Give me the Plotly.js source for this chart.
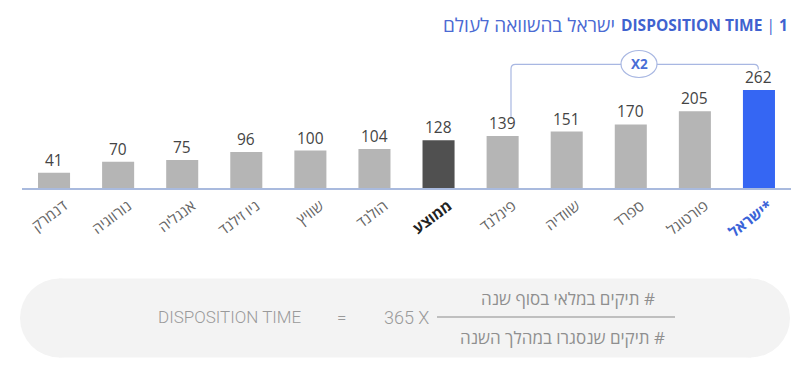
<!DOCTYPE html>
<html>
<head>
<meta charset="utf-8">
<script src="https://cdn.plot.ly/plotly-3.0.1.min.js"></script>
<style>html,body{margin:0;padding:0;background:#fff;}#chart{width:800px;height:371px;}</style>
</head>
<body>
<div id="chart"></div>
<script>
// ---- data ----
var countries = ['דנמרק','נורווגיה','אנגליה','ניו זילנד','שוויץ','הולנד','ממוצע','פינלנד','שוודיה','ספרד','פורטוגל','ישראל*'];
var dispositionDays = [41, 70, 75, 96, 100, 104, 128, 139, 151, 170, 205, 262];
var barKinds = ['c','c','c','c','c','c','avg','c','c','c','c','il'];
var titleHebrew = 'ישראל בהשוואה לעולם';
var titleLatin = 'DISPOSITION TIME';
var titleNumber = '1';
var multiplierLabel = 'X2';
var formulaLeft = 'DISPOSITION TIME';
var formulaFactor = '365 X';
var formulaNumerator = 'תיקים במלאי בסוף שנה #';
var formulaDenominator = 'תיקים שנסגרו במהלך השנה #';

// ---- styling ----
var kindColor = {c:'#b5b5b5', avg:'#505050', il:'#3566f3'};
var W = 800, H = 371, M = {l:22, r:9, t:68, b:183};
var PW = W - M.l - M.r, PH = H - M.t - M.b;
function xp(px){ return (px - M.l) / PW; }
function yp(py){ return (H - M.b - py) / PH; }

var tickText = countries.map(function(c, i){
  if (barKinds[i] === 'avg') return '<b><span style="color:#222">' + c + '</span></b>';
  if (barKinds[i] === 'il') return '<b><span style="color:#3a63d8">' + c + '</span></b>';
  return c;
});

var trace = {
  type: 'bar',
  x: countries,
  y: dispositionDays,
  marker: {color: barKinds.map(function(k){ return kindColor[k]; })},
  hoverinfo: 'skip'
};

var annotations = dispositionDays.map(function(v, i){
  return {x: countries[i], y: v, xref:'x', yref:'y', text: String(v), showarrow:false,
          yanchor:'bottom', font:{family:'Open Sans, sans-serif', size:15.5, color:'#444'}};
});
var blue = '#3f62cf';
annotations.push({xref:'paper', yref:'paper', x: xp(790), y: yp(25), xanchor:'right', yanchor:'middle', showarrow:false,
  text:'<b>' + titleLatin + '</b> | <b>' + titleNumber + '</b>', font:{family:'Open Sans, sans-serif', size:15.5, color:blue}});
annotations.push({xref:'paper', yref:'paper', x: xp(617), y: yp(25), xanchor:'right', yanchor:'middle', showarrow:false,
  text: titleHebrew, font:{family:'Open Sans, sans-serif', size:19, color:'#4b6ad3'}});
annotations.push({xref:'paper', yref:'paper', x: xp(639), y: yp(64), xanchor:'center', yanchor:'middle', showarrow:false,
  text:'<b>' + multiplierLabel + '</b>', font:{family:'Open Sans, sans-serif', size:13.5, color:'#4a6ed6'}});
var fGray = '#9a9a9a';
annotations.push({xref:'paper', yref:'paper', x: xp(230), y: yp(317), xanchor:'center', yanchor:'middle', showarrow:false,
  text: formulaLeft, font:{family:'Roboto, sans-serif', size:17, weight:300, color:fGray}});
annotations.push({xref:'paper', yref:'paper', x: xp(341), y: yp(317), xanchor:'center', yanchor:'middle', showarrow:false,
  text: '=', font:{family:'Roboto, sans-serif', size:17, weight:300, color:fGray}});
annotations.push({xref:'paper', yref:'paper', x: xp(406), y: yp(317), xanchor:'center', yanchor:'middle', showarrow:false,
  text: formulaFactor, font:{family:'Roboto, sans-serif', size:18, weight:300, color:fGray}});
annotations.push({xref:'paper', yref:'paper', x: xp(657), y: yp(298), xanchor:'right', yanchor:'middle', showarrow:false,
  text: formulaNumerator, font:{family:'Open Sans, sans-serif', size:17, color:'#8f8f8f'}});
annotations.push({xref:'paper', yref:'paper', x: xp(667), y: yp(337), xanchor:'right', yanchor:'middle', showarrow:false,
  text: formulaDenominator, font:{family:'Open Sans, sans-serif', size:17, color:'#8f8f8f'}});

function P(px, py){ return xp(px) + ',' + yp(py); }
var pill = '#f3f3f3';
var shapes = [
  {type:'circle', xref:'paper', yref:'paper', x0:xp(20), x1:xp(99), y0:yp(357.5), y1:yp(278.5), fillcolor:pill, line:{width:0}, layer:'below'},
  {type:'circle', xref:'paper', yref:'paper', x0:xp(711), x1:xp(790), y0:yp(357.5), y1:yp(278.5), fillcolor:pill, line:{width:0}, layer:'below'},
  {type:'rect', xref:'paper', yref:'paper', x0:xp(59), x1:xp(751), y0:yp(357.5), y1:yp(278.5), fillcolor:pill, line:{width:0}, layer:'below'},
  {type:'line', xref:'paper', yref:'paper', x0:xp(437), x1:xp(675), y0:yp(317), y1:yp(317), line:{color:'#8c8c8c', width:1.2}},
  {type:'path', xref:'paper', yref:'paper',
   path:'M' + P(511,117) + ' L' + P(511,69) + ' Q' + P(511,64.3) + ' ' + P(515.5,64.3) + ' L' + P(754,64.3) + ' Q' + P(758.3,64.3) + ' ' + P(758.3,68.5) + ' L' + P(758.3,69.5),
   line:{color:'#a8b7e2', width:1.2}},
  {type:'circle', xref:'paper', yref:'paper', x0:xp(621), x1:xp(657), y0:yp(77.5), y1:yp(50.5), fillcolor:'#ffffff', line:{color:'#a8b7e2', width:1.2}}
];

var layout = {
  width: W, height: H,
  margin: M,
  paper_bgcolor:'#ffffff', plot_bgcolor:'#ffffff',
  showlegend:false,
  bargap: 0.5,
  xaxis: {type:'category', showline:true, linecolor:'#a9bade', linewidth:1.5, showgrid:false, zeroline:false,
          ticks:'', tickangle:-37, tickvals: countries, ticktext: tickText, ticklabelshift: 10, ticklabelstandoff: 2,
          tickfont:{family:'Open Sans, sans-serif', size:15, color:'#666'}, fixedrange:true},
  yaxis: {range:[0, 321], visible:false, fixedrange:true},
  annotations: annotations,
  shapes: shapes
};
Plotly.newPlot('chart', [trace], layout, {displayModeBar:false, staticPlot:true});
</script>
</body>
</html>
